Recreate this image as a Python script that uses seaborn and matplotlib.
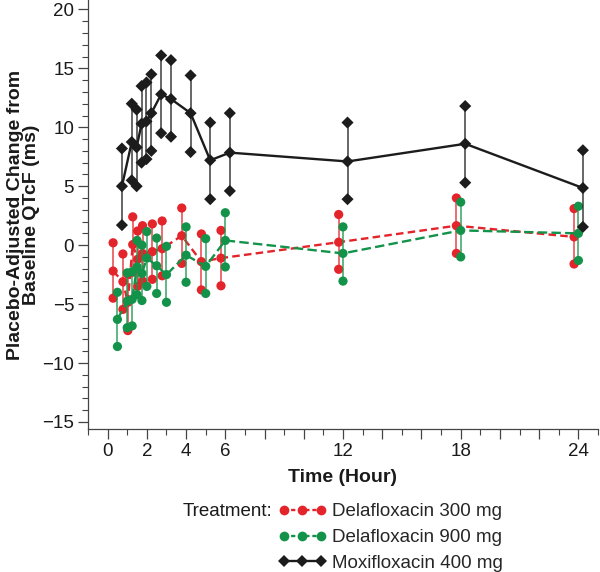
import numpy as np
import pandas as pd
import matplotlib
matplotlib.use("Agg")
import matplotlib.pyplot as plt
import seaborn as sns
from matplotlib.lines import Line2D
from matplotlib.ticker import MultipleLocator, FuncFormatter

sns.set_theme(style="ticks")
plt.rcParams["font.family"] = ["Liberation Sans", "DejaVu Sans"]

# ---------------- data ----------------
treatments = ["Delafloxacin 300 mg", "Delafloxacin 900 mg", "Moxifloxacin 400 mg"]
nominal_time = [0.5, 1, 1.25, 1.5, 1.75, 2, 2.5, 3, 4, 5, 6, 12, 18, 24]

mean_300 = [-2.2, -3.1, -4.85, 0.05, -1.2, -0.7, -0.55, -0.3, 0.8, -1.4, -1.1, 0.25, 1.65, 0.7]
upper_300 = [0.2, -0.75, -2.45, 2.4, 1.2, 1.65, 1.8, 2.05, 3.15, 0.95, 1.25, 2.6, 4.0, 3.1]
lower_300 = [-4.5, -5.45, -7.25, -2.3, -3.5, -3.05, -2.9, -2.6, -1.55, -3.8, -3.45, -2.05, -0.7, -1.6]

mean_900 = [-6.3, -4.75, -4.6, -1.85, -2.4, -1.1, -1.75, -2.5, -0.85, -1.8, 0.4, -0.7, 1.25, 1.0]
upper_900 = [-4.0, -2.35, -2.25, 0.4, 0.0, 1.15, 0.6, -0.1, 1.55, 0.55, 2.75, 1.55, 3.65, 3.3]
lower_900 = [-8.6, -7.0, -6.85, -4.2, -4.7, -3.5, -4.1, -4.85, -3.15, -4.1, -1.85, -3.05, -1.0, -1.3]

mean_moxi = [5.0, 8.75, 8.3, 10.3, 10.5, 11.2, 12.8, 12.4, 11.2, 7.2, 7.85, 7.1, 8.6, 4.85]
upper_moxi = [8.2, 12.0, 11.5, 13.5, 13.8, 14.5, 16.1, 15.7, 14.4, 10.4, 11.2, 10.4, 11.8, 8.05]
lower_moxi = [1.7, 5.5, 5.0, 7.0, 7.3, 8.0, 9.5, 9.2, 7.9, 3.9, 4.6, 3.9, 5.3, 1.55]

x_tick_labels = [0, 2, 4, 6, 12, 18, 24]

# ---------------- styles ----------------
palette = {treatments[0]: "#e3242b", treatments[1]: "#13934a", treatments[2]: "#1c1c1c"}
dodge = {treatments[0]: -0.22, treatments[1]: 0.0, treatments[2]: 0.23}
markers = {treatments[0]: "o", treatments[1]: "o", treatments[2]: "D"}
dash_styles = {treatments[0]: (3.2, 1.8), treatments[1]: (4.0, 1.8), treatments[2]: ""}
FS = 13.5

frames = []
for name, m, u, l in zip(treatments,
                         [mean_300, mean_900, mean_moxi],
                         [upper_300, upper_900, upper_moxi],
                         [lower_300, lower_900, lower_moxi]):
    frames.append(pd.DataFrame({"Treatment": name, "time": nominal_time,
                                "mean": m, "upper": u, "lower": l}))
df = pd.concat(frames, ignore_index=True)
df["x"] = df["time"] + df["Treatment"].map(dodge)

fig = plt.figure(figsize=(6.0, 5.72), dpi=100)
ax = fig.add_axes([88 / 600, 1 - 429 / 572, 510 / 600, 429 / 572])

for i, name in enumerate(treatments):
    sub = df[df["Treatment"] == name]
    z = 2 + i * 3
    ax.vlines(sub["x"], sub["lower"], sub["upper"], color=palette[name],
              lw=1.1, alpha=0.85, zorder=z)
    sns.lineplot(data=sub, x="x", y="mean", color=palette[name], ax=ax,
                 lw=1.7, estimator=None, sort=True, legend=False,
                 dashes=False, zorder=z + 1)
    if dash_styles[name]:
        ax.lines[-1].set_dashes(dash_styles[name])
    long = sub.melt(id_vars=["Treatment", "x"], value_vars=["mean", "upper", "lower"],
                    value_name="val")
    sns.scatterplot(data=long, x="x", y="val", color=palette[name],
                    marker=markers[name], s=44 if markers[name] == "o" else 38,
                    edgecolor="none", linewidth=0, ax=ax, legend=False,
                    zorder=z + 2)

ax.set_xlim(-1.0, 25.0)
ax.set_ylim(-15.6, 20.8)
ax.xaxis.set_major_locator(MultipleLocator(2))
ax.xaxis.set_minor_locator(MultipleLocator(1))
ax.xaxis.set_major_formatter(FuncFormatter(
    lambda v, p: f"{int(round(v))}" if int(round(v)) in x_tick_labels else ""))
ax.yaxis.set_major_locator(MultipleLocator(5))
ax.yaxis.set_minor_locator(MultipleLocator(1))
ax.yaxis.set_major_formatter(FuncFormatter(
    lambda v, p: f"{int(v)}".replace("-", "\u2212")))

sns.despine(ax=ax)
for s in ["left", "bottom"]:
    ax.spines[s].set_color("#444444")
    ax.spines[s].set_linewidth(0.9)
ax.tick_params(which="major", direction="out", length=7, width=0.9,
               color="#444444", labelsize=FS, labelcolor="#1a1a1a", pad=3)
ax.tick_params(which="minor", direction="out", length=4, width=0.8, color="#444444")

ax.set_xlabel("Time (Hour)", fontsize=14, fontweight="bold", color="#1a1a1a")
ax.xaxis.set_label_coords(0.5, -(478 - 429) / 429)
ax.xaxis.label.set_va("center")
ax.set_ylabel("Placebo-Adjusted Change from\nBaseline QTcF (ms)", fontsize=14,
              fontweight="bold", linespacing=0.95, color="#1a1a1a")
ax.yaxis.set_label_coords(-(88 - 40) / 510, 0.5)

handles = []
for name in treatments:
    h = Line2D([0], [0], color=palette[name], lw=1.7, marker=markers[name],
               markersize=7 if markers[name] == "o" else 6,
               markeredgewidth=0)
    if dash_styles[name]:
        h.set_dashes((1.8, 1.2))
    handles.append(h)
fig.legend(handles, treatments, loc="upper left", bbox_to_anchor=(278 / 600, 1 - 503 / 572),
           frameon=False, numpoints=3, handlelength=2.6, fontsize=FS,
           labelspacing=0.47, handletextpad=0.3, borderpad=0, borderaxespad=0)
fig.text(272 / 600, 1 - 512 / 572, "Treatment:", ha="right", va="center",
         fontsize=FS, color="#1a1a1a")

fig.savefig("out.png", dpi=100)
